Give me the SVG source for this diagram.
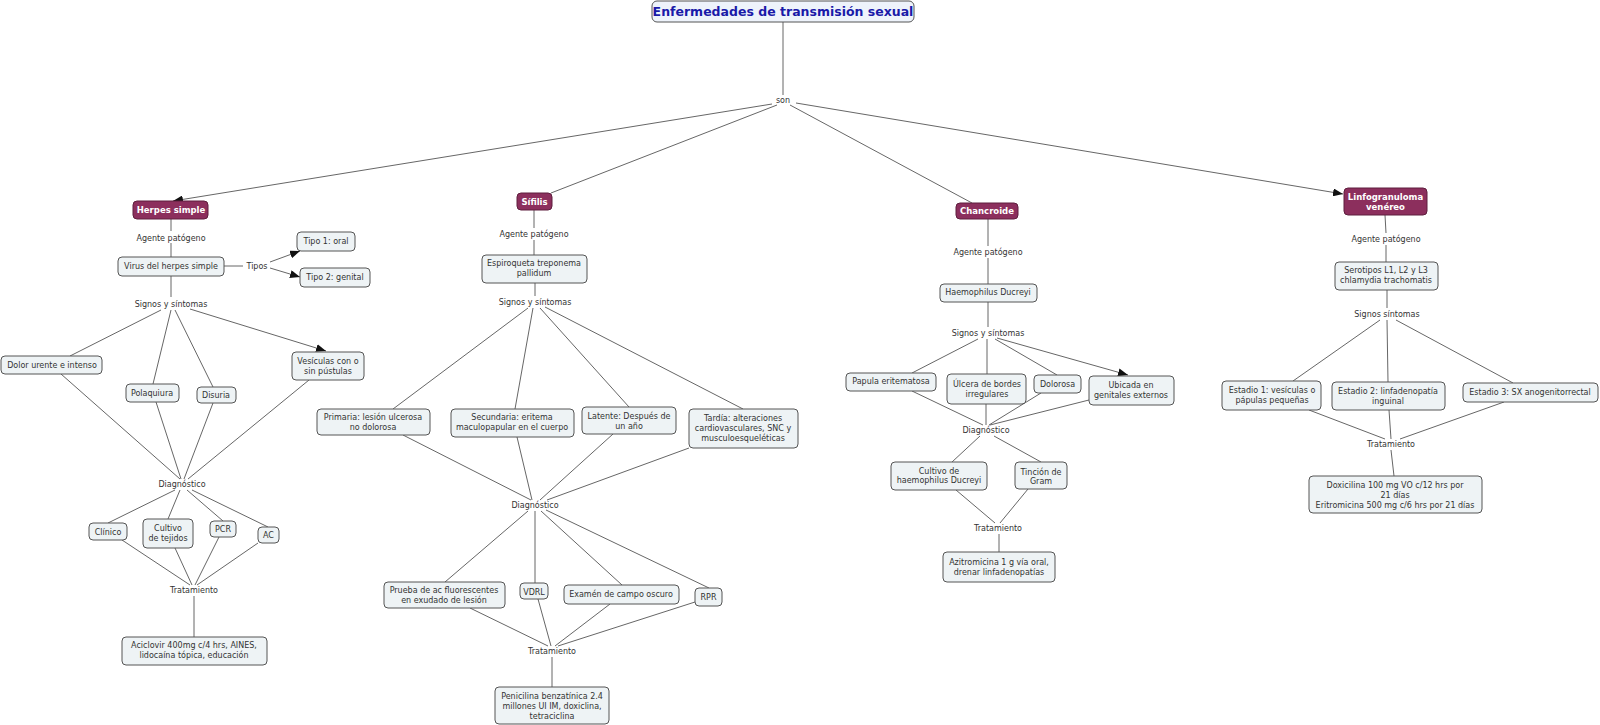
<svg xmlns="http://www.w3.org/2000/svg" width="1600" height="725" viewBox="0 0 1600 725">
<defs>
<marker id="arr" markerUnits="userSpaceOnUse" markerWidth="10" markerHeight="8" refX="10" refY="4" orient="auto">
<path d="M0,0 L10,4 L0,8 z" fill="#111"/>
</marker>
<style>
text{font-family:"DejaVu Sans",Verdana,sans-serif;font-size:8px;fill:#333;text-anchor:middle}
.n rect{fill:#eef3f5;stroke:#555;stroke-width:1}
.d rect{fill:#8c2f5d;stroke:#5e1f3e;stroke-width:1}
.d text{fill:#fff;font-weight:bold;font-size:8.5px}
.t rect{fill:#eef3fb;stroke:#555;stroke-width:1}
.t text{fill:#1a1aa8;font-weight:bold;font-size:12.5px}
.l text{fill:#333}
#connectors line{stroke:#555;stroke-width:0.9}
.a{marker-end:url(#arr)}
</style>
</defs>
<rect width="1600" height="725" fill="#fff"/>
<g id="connectors">
<line x1="783" y1="22" x2="783" y2="95"/>
<line class="a" x1="772" y1="104" x2="173" y2="201"/>
<line x1="777" y1="105" x2="551" y2="193"/>
<line x1="790" y1="105" x2="972" y2="203"/>
<line class="a" x1="796" y1="103" x2="1343" y2="194"/>
<line x1="171" y1="219" x2="171" y2="231"/>
<line x1="171" y1="243" x2="171" y2="257"/>
<line x1="224" y1="266" x2="243" y2="266"/>
<line class="a" x1="270" y1="262" x2="300" y2="251"/>
<line class="a" x1="270" y1="268" x2="300" y2="277"/>
<line x1="171" y1="276" x2="171" y2="297"/>
<line x1="161" y1="310" x2="70" y2="356"/>
<line x1="171" y1="310" x2="153" y2="384"/>
<line x1="175" y1="310" x2="213" y2="387"/>
<line class="a" x1="190" y1="309" x2="326" y2="351"/>
<line x1="61" y1="374" x2="180" y2="479"/>
<line x1="156" y1="402" x2="181" y2="479"/>
<line x1="213" y1="403" x2="184" y2="479"/>
<line x1="309" y1="380" x2="188" y2="479"/>
<line x1="175" y1="490" x2="108" y2="523"/>
<line x1="180" y1="490" x2="168" y2="519"/>
<line x1="187" y1="490" x2="223" y2="521"/>
<line x1="192" y1="490" x2="268" y2="527"/>
<line x1="122" y1="540" x2="190" y2="585"/>
<line x1="175" y1="548" x2="192" y2="585"/>
<line x1="219" y1="537" x2="195" y2="585"/>
<line x1="258" y1="543" x2="197" y2="585"/>
<line x1="194" y1="596" x2="194" y2="637"/>
<line x1="534" y1="210" x2="534" y2="228"/>
<line x1="534" y1="240" x2="534" y2="255"/>
<line x1="535" y1="283" x2="535" y2="296"/>
<line x1="528" y1="308" x2="393" y2="409"/>
<line x1="533" y1="308" x2="515" y2="409"/>
<line x1="540" y1="308" x2="629" y2="407"/>
<line x1="545" y1="307" x2="743" y2="409"/>
<line x1="403" y1="435" x2="531" y2="500"/>
<line x1="517" y1="437" x2="532" y2="500"/>
<line x1="613" y1="434" x2="540" y2="500"/>
<line x1="689" y1="448" x2="547" y2="500"/>
<line x1="528" y1="511" x2="445" y2="582"/>
<line x1="535" y1="511" x2="535" y2="583"/>
<line x1="541" y1="511" x2="622" y2="585"/>
<line x1="546" y1="510" x2="709" y2="588"/>
<line x1="470" y1="608" x2="548" y2="646"/>
<line x1="538" y1="599" x2="551" y2="646"/>
<line x1="610" y1="604" x2="555" y2="646"/>
<line x1="695" y1="602" x2="558" y2="646"/>
<line x1="552" y1="657" x2="552" y2="687"/>
<line x1="988" y1="219" x2="988" y2="246"/>
<line x1="988" y1="258" x2="988" y2="284"/>
<line x1="988" y1="302" x2="988" y2="327"/>
<line x1="978" y1="339" x2="912" y2="373"/>
<line x1="987" y1="339" x2="987" y2="374"/>
<line x1="995" y1="339" x2="1057" y2="375"/>
<line class="a" x1="997" y1="338" x2="1128" y2="375"/>
<line x1="912" y1="391" x2="983" y2="425"/>
<line x1="986" y1="404" x2="986" y2="425"/>
<line x1="1041" y1="393" x2="989" y2="425"/>
<line x1="1089" y1="400" x2="990" y2="425"/>
<line x1="980" y1="436" x2="952" y2="462"/>
<line x1="994" y1="436" x2="1041" y2="462"/>
<line x1="956" y1="490" x2="995" y2="523"/>
<line x1="1028" y1="489" x2="1000" y2="523"/>
<line x1="999" y1="534" x2="999" y2="552"/>
<line x1="1385" y1="215" x2="1386" y2="233"/>
<line x1="1386" y1="245" x2="1386" y2="262"/>
<line x1="1387" y1="290" x2="1387" y2="308"/>
<line x1="1380" y1="320" x2="1293" y2="381"/>
<line x1="1387" y1="320" x2="1388" y2="382"/>
<line x1="1396" y1="320" x2="1513" y2="383"/>
<line x1="1309" y1="410" x2="1385" y2="439"/>
<line x1="1389" y1="410" x2="1391" y2="439"/>
<line x1="1504" y1="402" x2="1400" y2="439"/>
<line x1="1391" y1="450" x2="1394" y2="476"/>
</g>
<g class="l">
<text x="783" y="103" font-size="7.5">son</text>
<text x="171" y="241">Agente patógeno</text>
<text x="257" y="269">Tipos</text>
<text x="171" y="307">Signos y síntomas</text>
<text x="182" y="487">Diagnóstico</text>
<text x="194" y="593">Tratamiento</text>
<text x="534" y="237">Agente patógeno</text>
<text x="535" y="305">Signos y síntomas</text>
<text x="535" y="508">Diagnóstico</text>
<text x="552" y="654">Tratamiento</text>
<text x="988" y="255">Agente patógeno</text>
<text x="988" y="336">Signos y síntomas</text>
<text x="986" y="433">Diagnóstico</text>
<text x="998" y="531">Tratamiento</text>
<text x="1386" y="242">Agente patógeno</text>
<text x="1387" y="317">Signos síntomas</text>
<text x="1391" y="447">Tratamiento</text>
</g>
<g id="title" class="t"><rect x="652" y="1" width="262" height="21" rx="5"/><text x="783" y="16">Enfermedades de transmisión sexual</text></g>
<g id="herpes" class="d"><rect x="133" y="201" width="75" height="18" rx="4"/><text x="171" y="213">Herpes simple</text></g>
<g id="virus" class="n"><rect x="118" y="257" width="106" height="19" rx="4"/><text x="171" y="269">Virus del herpes simple</text></g>
<g id="tipo1" class="n"><rect x="297" y="232" width="58" height="19" rx="4"/><text x="326" y="244">Tipo 1: oral</text></g>
<g id="tipo2" class="n"><rect x="300" y="268" width="70" height="19" rx="4"/><text x="335" y="280">Tipo 2: genital</text></g>
<g id="dolor" class="n"><rect x="1" y="356" width="101" height="18" rx="4"/><text x="52" y="368">Dolor urente e intenso</text></g>
<g id="vesiculas" class="n"><rect x="292" y="352" width="72" height="28" rx="4"/><text x="328" y="364">Vesículas con o</text><text x="328" y="374">sin pústulas</text></g>
<g id="polaquiura" class="n"><rect x="126" y="384" width="53" height="18" rx="4"/><text x="152" y="396">Polaquiura</text></g>
<g id="disuria" class="n"><rect x="197" y="387" width="39" height="16" rx="4"/><text x="216" y="398">Disuria</text></g>
<g id="clinico" class="n"><rect x="89" y="523" width="38" height="17" rx="4"/><text x="108" y="535">Clínico</text></g>
<g id="cultivo" class="n"><rect x="143" y="519" width="50" height="29" rx="4"/><text x="168" y="531">Cultivo</text><text x="168" y="541">de tejidos</text></g>
<g id="pcr" class="n"><rect x="210" y="521" width="26" height="16" rx="4"/><text x="223" y="532">PCR</text></g>
<g id="ac" class="n"><rect x="258" y="527" width="21" height="16" rx="4"/><text x="268.5" y="538">AC</text></g>
<g id="aciclovir" class="n"><rect x="122" y="637" width="145" height="28" rx="4"/><text x="194" y="648">Aciclovir 400mg c/4 hrs, AINES,</text><text x="194" y="658">lidocaína tópica, educación</text></g>
<g id="sifilis" class="d"><rect x="517" y="193" width="35" height="17" rx="4"/><text x="534.5" y="205">Sífilis</text></g>
<g id="espiroqueta" class="n"><rect x="482" y="255" width="105" height="28" rx="4"/><text x="534" y="266">Espiroqueta treponema</text><text x="534" y="276">pallidum</text></g>
<g id="primaria" class="n"><rect x="317" y="409" width="113" height="26" rx="4"/><text x="373" y="420">Primaria: lesión ulcerosa</text><text x="373" y="430">no dolorosa</text></g>
<g id="secundaria" class="n"><rect x="451" y="409" width="123" height="28" rx="4"/><text x="512" y="420">Secundaria: eritema</text><text x="512" y="430">maculopapular en el cuerpo</text></g>
<g id="latente" class="n"><rect x="582" y="407" width="94" height="27" rx="4"/><text x="629" y="419">Latente: Después de</text><text x="629" y="429">un año</text></g>
<g id="tardia" class="n"><rect x="689" y="409" width="109" height="39" rx="4"/><text x="743" y="421">Tardía: alteraciones</text><text x="743" y="431">cardiovasculares, SNC y</text><text x="743" y="441">musculoesqueléticas</text></g>
<g id="prueba" class="n"><rect x="384" y="582" width="121" height="26" rx="4"/><text x="444" y="593">Prueba de ac fluorescentes</text><text x="444" y="603">en exudado de lesión</text></g>
<g id="vdrl" class="n"><rect x="520" y="583" width="28" height="16" rx="4"/><text x="534" y="595">VDRL</text></g>
<g id="examen" class="n"><rect x="564" y="585" width="115" height="19" rx="4"/><text x="621" y="597">Examén de campo oscuro</text></g>
<g id="rpr" class="n"><rect x="695" y="588" width="27" height="18" rx="4"/><text x="708.5" y="600">RPR</text></g>
<g id="penicilina" class="n"><rect x="495" y="687" width="114" height="37" rx="4"/><text x="552" y="699">Penicilina benzatínica 2.4</text><text x="552" y="709">millones UI IM, doxiclina,</text><text x="552" y="719">tetraciclina</text></g>
<g id="chancroide" class="d"><rect x="956" y="203" width="62" height="16" rx="4"/><text x="987" y="214">Chancroide</text></g>
<g id="haemophilus" class="n"><rect x="940" y="284" width="97" height="18" rx="4"/><text x="988" y="295">Haemophilus Ducreyi</text></g>
<g id="papula" class="n"><rect x="846" y="373" width="90" height="18" rx="4"/><text x="891" y="384">Papula eritematosa</text></g>
<g id="ulcera" class="n"><rect x="947" y="374" width="79" height="30" rx="4"/><text x="987" y="387">Úlcera de bordes</text><text x="987" y="397">irregulares</text></g>
<g id="dolorosa" class="n"><rect x="1034" y="375" width="47" height="18" rx="4"/><text x="1057.5" y="387">Dolorosa</text></g>
<g id="ubicada" class="n"><rect x="1089" y="376" width="85" height="29" rx="4"/><text x="1131" y="388">Ubicada en</text><text x="1131" y="398">genitales externos</text></g>
<g id="cultivohd" class="n"><rect x="891" y="462" width="96" height="28" rx="4"/><text x="939" y="474">Cultivo de</text><text x="939" y="483">haemophilus Ducreyi</text></g>
<g id="tincion" class="n"><rect x="1015" y="462" width="52" height="27" rx="4"/><text x="1041" y="475">Tinción de</text><text x="1041" y="484">Gram</text></g>
<g id="azitromicina" class="n"><rect x="943" y="552" width="112" height="30" rx="4"/><text x="999" y="565">Azitromicina 1 g vía oral,</text><text x="999" y="575">drenar linfadenopatías</text></g>
<g id="linfogranuloma" class="d"><rect x="1344" y="188" width="83" height="27" rx="4"/><text x="1385.5" y="200">Linfogranuloma</text><text x="1385.5" y="210">venéreo</text></g>
<g id="serotipos" class="n"><rect x="1335" y="262" width="103" height="28" rx="4"/><text x="1386" y="273">Serotipos L1, L2 y L3</text><text x="1386" y="283">chlamydia trachomatis</text></g>
<g id="estadio1" class="n"><rect x="1222" y="381" width="99" height="29" rx="4"/><text x="1272" y="393">Estadio 1: vesículas o</text><text x="1272" y="403">pápulas pequeñas</text></g>
<g id="estadio2" class="n"><rect x="1332" y="382" width="113" height="28" rx="4"/><text x="1388" y="394">Estadio 2: linfadenopatía</text><text x="1388" y="404">inguinal</text></g>
<g id="estadio3" class="n"><rect x="1463" y="383" width="135" height="19" rx="4"/><text x="1530" y="395">Estadio 3: SX anogenitorrectal</text></g>
<g id="doxicilina" class="n"><rect x="1309" y="476" width="173" height="37" rx="4"/><text x="1395" y="488">Doxicilina 100 mg VO c/12 hrs por</text><text x="1395" y="498">21 días</text><text x="1395" y="508">Eritromicina 500 mg c/6 hrs por 21 días</text></g>
</svg>
